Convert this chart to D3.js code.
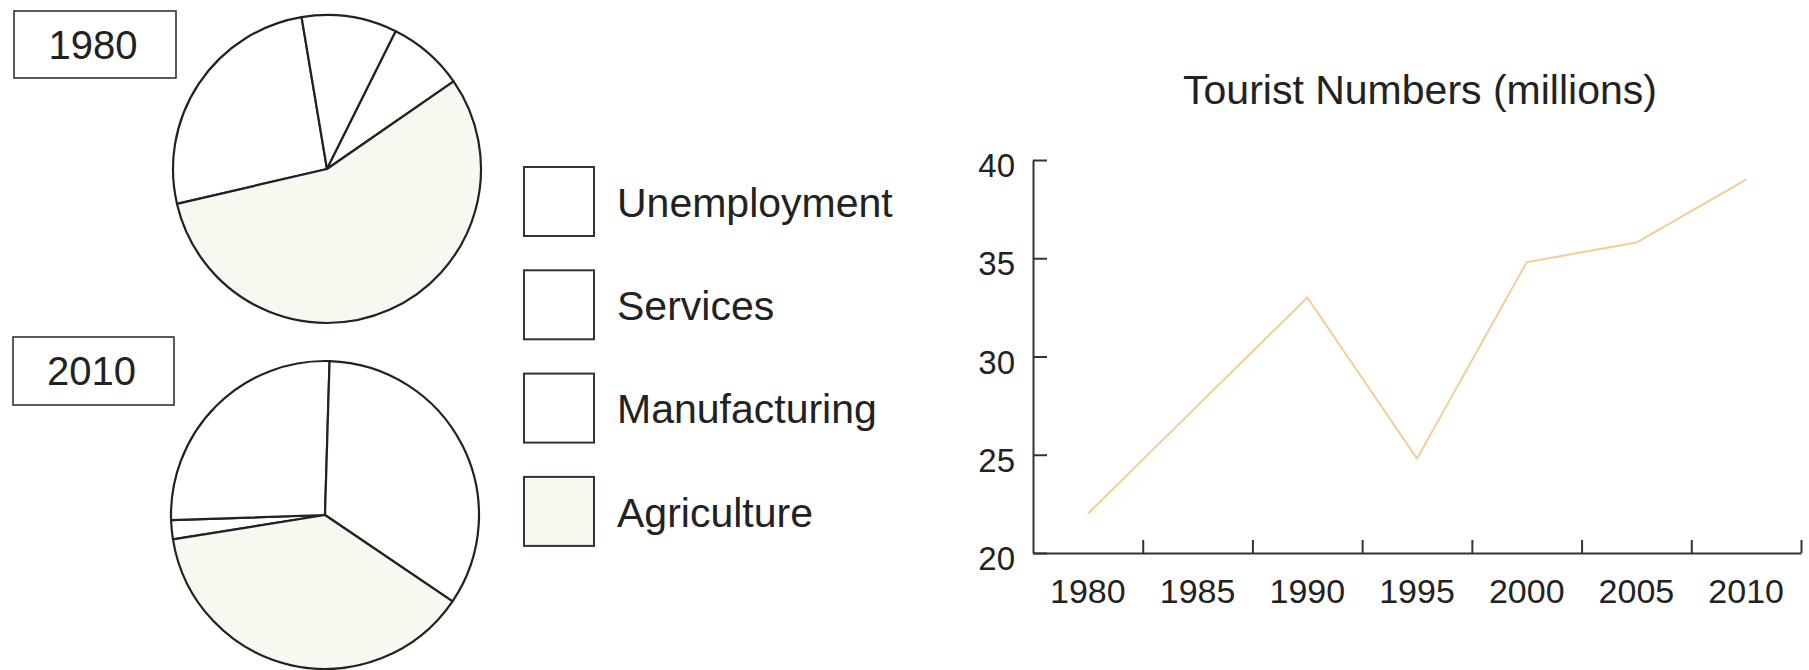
<!DOCTYPE html>
<html>
<head>
<meta charset="utf-8">
<script src="https://cdn.jsdelivr.net/npm/d3@7"></script>
<style>
  html, body { margin: 0; padding: 0; background: #ffffff; }
  svg { display: block; }
  text { font-family: "Liberation Sans", Arial, Helvetica, sans-serif; fill: #222; }
</style>
</head>
<body>
<svg id="chart" width="1809" height="670"></svg>
<script>
// Employment sectors (share of workforce, %)
const sectors = ["Unemployment", "Services", "Manufacturing", "Agriculture"];
const share1980 = [26, 10, 8, 56];
const share2010 = [2, 26, 34, 38];
const pieYears = ["1980", "2010"];

// Tourist numbers (millions)
const tourYears = ["1980", "1985", "1990", "1995", "2000", "2005", "2010"];
const tourists = [22.0, 27.5, 33.0, 24.8, 34.8, 35.8, 39.0];
const yTicks = [20, 25, 30, 35, 40];
const chartTitle = "Tourist Numbers (millions)";

(function draw() {
  const svg = d3.select("#chart");
  const ink = "#222";
  const sectorFill = d3.scaleOrdinal()
    .domain(sectors)
    .range(["#ffffff", "#ffffff", "#ffffff", "#f7f9f0"]);

  // ---------- Pie charts ----------
  const pies = [
    { year: pieYears[0], values: share1980, cx: 327, cy: 169, start: -103.1,
      box: { x: 14, y: 11, w: 162, h: 67 } },
    { year: pieYears[1], values: share2010, cx: 325, cy: 515, start: -99.1,
      box: { x: 13, y: 337, w: 161, h: 68 } }
  ];
  const radius = 154;
  const arc = d3.arc().innerRadius(0).outerRadius(radius);

  pies.forEach(p => {
    const startRad = p.start * Math.PI / 180;
    const layout = d3.pie()
      .sort(null)
      .value(d => d.v)
      .startAngle(startRad)
      .endAngle(startRad + 2 * Math.PI);
    const data = layout(sectors.map((s, i) => ({ s, v: p.values[i] })));

    const g = svg.append("g").attr("transform", `translate(${p.cx},${p.cy})`);
    g.selectAll("path")
      .data(data)
      .join("path")
      .attr("d", arc)
      .attr("fill", d => sectorFill(d.data.s))
      .attr("stroke", ink)
      .attr("stroke-width", 2.2)
      .attr("stroke-linejoin", "round");

    // year tag
    svg.append("rect")
      .attr("x", p.box.x).attr("y", p.box.y)
      .attr("width", p.box.w).attr("height", p.box.h)
      .attr("fill", "#fff").attr("stroke", "#333").attr("stroke-width", 1.6);
    svg.append("text")
      .attr("x", p.box.x + p.box.w / 2 - 2)
      .attr("y", p.box.y + p.box.h / 2)
      .attr("dy", "0.36em")
      .attr("text-anchor", "middle")
      .attr("font-size", 40)
      .text(p.year);
  });

  // ---------- Legend ----------
  const legend = svg.append("g").attr("transform", "translate(524,167)");
  const legendStep = 103.3;
  const item = legend.selectAll("g")
    .data(sectors)
    .join("g")
    .attr("transform", (d, i) => `translate(0,${i * legendStep})`);
  item.append("rect")
    .attr("width", 70).attr("height", 69)
    .attr("fill", d => sectorFill(d))
    .attr("stroke", "#333").attr("stroke-width", 2);
  item.append("text")
    .attr("x", 93).attr("y", 35)
    .attr("dy", "0.36em")
    .attr("font-size", 41)
    .text(d => d);

  // ---------- Line chart ----------
  const plotLeft = 1033, plotRight = 1801, plotTop = 160, plotBottom = 553;

  const x = d3.scaleBand().domain(tourYears).range([plotLeft, plotRight]).padding(0);
  const y = d3.scaleLinear().domain([d3.min(yTicks), d3.max(yTicks)]).range([plotBottom, plotTop]);

  svg.append("text")
    .attr("x", 1420).attr("y", 104)
    .attr("text-anchor", "middle")
    .attr("font-size", 41)
    .text(chartTitle);

  // y axis: ticks point inward, labels to the left
  const yAxis = svg.append("g")
    .attr("transform", `translate(${plotLeft},0)`)
    .call(d3.axisLeft(y).tickValues(yTicks).tickSizeInner(-14).tickSizeOuter(0).tickPadding(18));
  yAxis.select(".domain").attr("stroke", "#333").attr("stroke-width", 2);
  yAxis.selectAll(".tick line").attr("stroke", "#333").attr("stroke-width", 2);
  yAxis.selectAll(".tick text")
    .attr("font-size", 33)
    .attr("font-family", "Liberation Sans, Arial, sans-serif")
    .attr("fill", ink)
    .attr("dy", "0.5em");

  // x axis: ticks at band boundaries, labels centred in each band
  const xEdges = d3.scaleLinear().domain([0, tourYears.length]).range([plotLeft, plotRight]);
  const xTickAxis = svg.append("g")
    .attr("transform", `translate(0,${plotBottom})`)
    .call(d3.axisBottom(xEdges)
      .tickValues(d3.range(1, tourYears.length + 1))
      .tickSizeInner(-13).tickSizeOuter(0)
      .tickFormat(""));
  xTickAxis.select(".domain").attr("stroke", "#333").attr("stroke-width", 2.2);
  xTickAxis.selectAll(".tick line").attr("stroke", "#333").attr("stroke-width", 2);

  const xLabelAxis = svg.append("g")
    .attr("transform", `translate(0,${plotBottom})`)
    .call(d3.axisBottom(x).tickSize(0).tickPadding(26));
  xLabelAxis.select(".domain").remove();
  xLabelAxis.selectAll(".tick text")
    .attr("font-size", 34)
    .attr("font-family", "Liberation Sans, Arial, sans-serif")
    .attr("fill", ink);

  // tourist line
  const line = d3.line()
    .x((d, i) => x(tourYears[i]) + x.bandwidth() / 2)
    .y(d => y(d));
  svg.append("path")
    .datum(tourists)
    .attr("d", line)
    .attr("fill", "none")
    .attr("stroke", "#f1cd98")
    .attr("stroke-width", 2)
    .attr("stroke-linejoin", "miter");
})();
</script>
</body>
</html>
